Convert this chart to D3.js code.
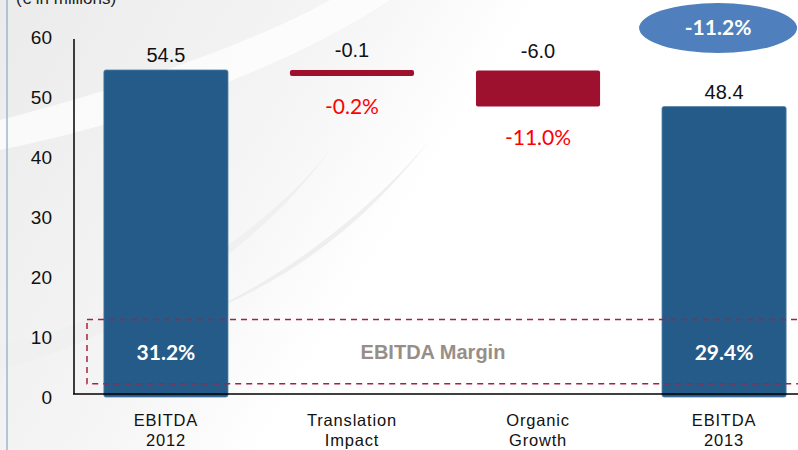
<!DOCTYPE html>
<html>
<head>
<meta charset="utf-8">
<script src="https://cdn.jsdelivr.net/npm/d3@7"></script>
<style>
  body { margin: 0; background: #fff; }
  svg { display: block; }
</style>
</head>
<body>
<div id="chart"></div>
<script>
// waterfall steps, € millions
const categories = [["EBITDA", "2012"], ["Translation", "Impact"], ["Organic", "Growth"], ["EBITDA", "2013"]];
const stepValues = [54.5, -0.1, -6.0, 48.4];
const stepTypes = ["total", "delta", "delta", "total"];
const valueLabels = ["54.5", "-0.1", "-6.0", "48.4"];
const changeLabels = ["", "-0.2%", "-11.0%", ""];
const marginLabels = ["31.2%", "", "", "29.4%"];
const totalChange = "-11.2%";
const yTicks = [0, 10, 20, 30, 40, 50, 60];
const marginBox = [2.2, 12.9];

const width = 798;
const height = 450;

const svg = d3.select("#chart")
  .append("svg")
  .attr("width", width)
  .attr("height", height);

// background swoosh
const defs = svg.append("defs");
const grad = defs.append("linearGradient")
  .attr("id", "bg")
  .attr("x1", 0).attr("y1", 0).attr("x2", 1).attr("y2", 0.35);
grad.append("stop").attr("offset", "0%").attr("stop-color", "#ebebeb");
grad.append("stop").attr("offset", "40%").attr("stop-color", "#f5f5f5");
grad.append("stop").attr("offset", "60%").attr("stop-color", "#ffffff");

svg.append("rect")
  .attr("width", width)
  .attr("height", height)
  .attr("fill", "url(#bg)");

svg.append("path")
  .attr("d", "M0,370 C120,340 260,250 330,150 C250,250 120,320 0,345 Z")
  .attr("fill", "#f0f0f0");
svg.append("path")
  .attr("d", "M0,120 C120,90 260,40 330,0 L390,0 C300,60 150,120 0,150 Z")
  .attr("fill", "#ffffff")
  .attr("opacity", 0.7);
svg.append("path")
  .attr("d", "M160,330 C280,290 380,200 430,140 C360,230 280,290 160,330 Z")
  .attr("fill", "#ebebeb")
  .attr("opacity", 0.8);

svg.append("line")
  .attr("x1", 7).attr("x2", 7)
  .attr("y1", 0).attr("y2", height)
  .attr("stroke", "#9fb6cf")
  .attr("stroke-width", 1.5);

svg.append("text")
  .attr("x", 16)
  .attr("y", 4)
  .attr("font-family", "Liberation Sans, Arial, sans-serif")
  .attr("font-size", 17)
  .attr("fill", "#222")
  .text("(€ in millions)");

// scales
const x = d3.scaleBand()
  .domain(d3.range(categories.length))
  .range([73, 817])
  .paddingInner(0.333)
  .paddingOuter(0.166);

const y = d3.scaleLinear()
  .domain([0, 60])
  .range([397, 37]);

// build waterfall segments
let running = 0;
const steps = stepValues.map((v, i) => {
  let from, to;
  if (stepTypes[i] === "total") {
    from = 0; to = v; running = v;
  } else {
    from = running; to = running + v; running = to;
  }
  return { i, v, type: stepTypes[i], lo: Math.min(from, to), hi: Math.max(from, to) };
});

// y axis
const yAxis = d3.axisLeft(y).tickValues(yTicks).tickSize(0).tickPadding(22);
svg.append("g")
  .attr("transform", `translate(74,0)`)
  .call(yAxis)
  .call((g) => g.select(".domain").remove())
  .call((g) => g.selectAll("text")
    .attr("font-family", "Liberation Sans, Arial, sans-serif")
    .attr("font-size", 19)
    .attr("fill", "#111")
    .attr("dy", "0.35em"));

// bars
svg.append("g")
  .selectAll("rect")
  .data(steps)
  .join("rect")
  .attr("x", (d) => x(d.i))
  .attr("width", x.bandwidth())
  .attr("y", (d) => y(d.hi))
  .attr("height", (d) => Math.max(y(d.lo) - y(d.hi), 6))
  .attr("rx", 2)
  .attr("fill", (d) => (d.type === "total" ? "#255b88" : "#9d102e"))
  .attr("stroke", (d) => (d.type === "total" ? "#4f7fa8" : "none"))
  .attr("stroke-width", 0.8);

// axis lines
const baseY = y(0) - 3;
svg.append("line")
  .attr("x1", 74).attr("x2", 74)
  .attr("y1", y(60) + 2).attr("y2", baseY)
  .attr("stroke", "#000")
  .attr("stroke-width", 1.5);
svg.append("line")
  .attr("x1", 73).attr("x2", width)
  .attr("y1", baseY).attr("y2", baseY)
  .attr("stroke", "#000")
  .attr("stroke-width", 1.5);

// value labels above bars
svg.append("g")
  .selectAll("text")
  .data(steps)
  .join("text")
  .attr("x", (d) => x(d.i) + x.bandwidth() / 2)
  .attr("y", (d) => (d.type === "total" ? y(d.hi) - 8 : y(d.hi) - 13))
  .attr("text-anchor", "middle")
  .attr("font-family", "Liberation Sans, Arial, sans-serif")
  .attr("font-size", 20)
  .attr("fill", "#111")
  .text((d, i) => valueLabels[i]);

// change percentages under delta bars
svg.append("g")
  .selectAll("text")
  .data(steps.filter((d) => changeLabels[d.i]))
  .join("text")
  .attr("x", (d) => x(d.i) + x.bandwidth() / 2)
  .attr("y", (d) => Math.max(y(d.lo), y(d.hi) + 6) + 38)
  .attr("text-anchor", "middle")
  .attr("font-family", "Lato, Open Sans, sans-serif")
  .attr("font-size", 21)
  .attr("fill", "#ff0000")
  .text((d) => changeLabels[d.i]);

// EBITDA margin box
svg.append("rect")
  .attr("x", 87)
  .attr("y", y(marginBox[1]))
  .attr("width", width - 87 + 5)
  .attr("height", y(marginBox[0]) - y(marginBox[1]))
  .attr("fill", "none")
  .attr("stroke", "#a8203f")
  .attr("stroke-width", 1.5)
  .attr("stroke-dasharray", "6,5");

svg.append("text")
  .attr("x", (x(1) + x(2) + x.bandwidth()) / 2 - 12)
  .attr("y", y((marginBox[0] + marginBox[1]) / 2) + 7)
  .attr("text-anchor", "middle")
  .attr("font-family", "Liberation Sans, Arial, sans-serif")
  .attr("font-weight", "bold")
  .attr("font-size", 20)
  .attr("fill", "#988e87")
  .text("EBITDA Margin");

svg.append("g")
  .selectAll("text")
  .data(steps.filter((d) => marginLabels[d.i]))
  .join("text")
  .attr("x", (d) => x(d.i) + x.bandwidth() / 2)
  .attr("y", y((marginBox[0] + marginBox[1]) / 2) + 8)
  .attr("text-anchor", "middle")
  .attr("font-family", "Lato, Open Sans, sans-serif")
  .attr("font-weight", "bold")
  .attr("font-size", 21)
  .attr("fill", "#ffffff")
  .text((d) => marginLabels[d.i]);

// total change bubble
const lastCx = x(3) + x.bandwidth() / 2 - 6;
svg.append("ellipse")
  .attr("cx", lastCx)
  .attr("cy", 28)
  .attr("rx", 79)
  .attr("ry", 25)
  .attr("fill", "#4f80bd");
svg.append("text")
  .attr("x", lastCx)
  .attr("y", 35)
  .attr("text-anchor", "middle")
  .attr("font-family", "Lato, Open Sans, sans-serif")
  .attr("font-weight", "bold")
  .attr("font-size", 21)
  .attr("fill", "#ffffff")
  .text(totalChange);

// category labels
const xl = svg.append("g")
  .selectAll("text")
  .data(categories)
  .join("text")
  .attr("x", (d, i) => x(i) + x.bandwidth() / 2)
  .attr("y", 426)
  .attr("text-anchor", "middle")
  .attr("font-family", "Liberation Sans, Arial, sans-serif")
  .attr("font-size", 16.5)
  .attr("letter-spacing", 0.8)
  .attr("fill", "#111");
xl.append("tspan").text((d) => d[0]);
xl.append("tspan")
  .attr("x", (d, i) => x(i) + x.bandwidth() / 2)
  .attr("dy", 20)
  .text((d) => d[1]);
</script>
</body>
</html>
